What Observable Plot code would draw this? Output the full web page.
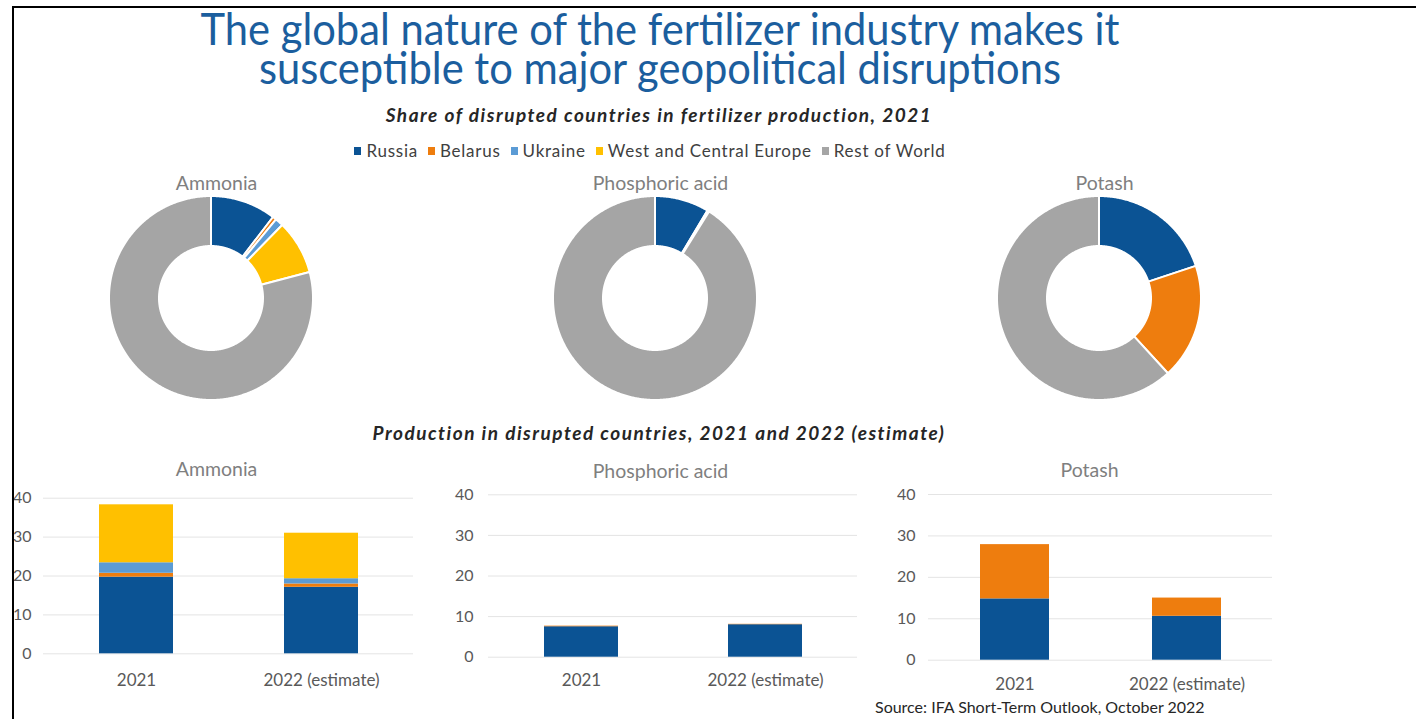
<!DOCTYPE html>
<html><head><meta charset="utf-8">
<script src="https://cdn.jsdelivr.net/npm/d3@7"></script>
<script src="https://cdn.jsdelivr.net/npm/@observablehq/plot@0.6"></script>
<style>
body{margin:0;background:#fff;font-family:Lato,"Open Sans",sans-serif;}
#page{position:relative;width:1416px;height:719px;overflow:hidden;background:#fff;}
.abs{position:absolute;}
#frame{position:absolute;left:12px;top:6px;width:1420px;height:800px;border-left:2px solid #000;border-top:2px solid #000;pointer-events:none;}
.tline{left:0;width:1320px;height:39px;text-align:center;color:#1b5e9e;font-size:44px;line-height:39px;transform:scaleX(0.947);transform-origin:660px 0;white-space:nowrap;}
.sub{left:0;width:1318px;text-align:center;font-size:19px;line-height:19px;letter-spacing:1.5px;font-weight:bold;font-style:italic;color:#262626;white-space:nowrap;}
#legend{left:0;width:1310px;top:134px;display:flex;justify-content:center;}
#source{left:875px;top:699px;font-size:16px;line-height:16px;color:#262626;white-space:nowrap;}
.lg-swatch{margin-right:10px !important;}
.lg-swatch>svg{margin-right:5px !important;}
svg g[aria-label^="x-axis"] text{font-size:17px;}
</style></head>
<body><div id="page">
<div class="abs tline" style="top:9px">The global nature of the fertilizer industry makes it</div>
<div class="abs tline" style="top:48px">susceptible to major geopolitical disruptions</div>
<div id="sub1" class="abs sub" style="top:105px">Share of disrupted countries in fertilizer production, 2021</div>
<div id="legend" class="abs"></div>
<div id="sub2" class="abs sub" style="top:423px">Production in disrupted countries, 2021 and 2022 (estimate)</div>
<div id="source" class="abs">Source: IFA Short-Term Outlook, October 2022</div>
<div id="frame"></div>
</div>
<script>
// ---- data ----
const categories = ["Russia", "Belarus", "Ukraine", "West and Central Europe", "Rest of World"];
const palette = ["#0b5394", "#ee7d0e", "#5b9bd5", "#ffc000", "#a5a5a5"];
const products = ["Ammonia", "Phosphoric acid", "Potash"];
// donut shares (%), 2021
const ammoniaShare = [10.4, 0.6, 1.3, 8.6, 79.1];
const phosphoricShare = [8.6, 0.3, 0, 0, 91.1];
const potashShare = [19.9, 18.3, 0, 0, 61.8];
// bar values (Mt), by year
const years = ["2021", "2022 (estimate)"];
const yTicks = [0, 10, 20, 30, 40];
const ammoniaRussia = [19.7, 17.1];
const ammoniaBelarus = [1.0, 0.85];
const ammoniaUkraine = [2.7, 1.35];
const ammoniaWCE = [14.9, 11.7];
const phosphoricRussia = [7.5, 8.0];
const phosphoricBelarus = [0.15, 0.1];
const potashRussia = [14.8, 10.6];
const potashBelarus = [13.1, 4.4];

const page = document.getElementById("page");
const frame = document.getElementById("frame");
const colorScale = {domain: categories, range: palette};

// legend
const lg = Plot.legend({
  color: {type: "ordinal", ...colorScale},
  swatchWidth: 7, swatchHeight: 8, className: "lg",
  style: {fontSize: "17px", letterSpacing: "0.75px", fontFamily: "Lato, sans-serif", color: "#404040", margin: "0"}
});
document.getElementById("legend").appendChild(lg);

// donuts
const R = 102, r0 = 52;
function donutPoints(shares) {
  const total = d3.sum(shares);
  const pts = [];
  let acc = 0;
  shares.forEach((v, i) => {
    if (!v) return;
    const a0 = acc / total * 2 * Math.PI;
    acc += v;
    const a1 = acc / total * 2 * Math.PI;
    const n = Math.max(2, Math.ceil((a1 - a0) / (Math.PI / 360)));
    for (let j = 0; j <= n; j++) pts.push({cat: categories[i], a: a0 + (a1 - a0) * j / n});
  });
  return pts;
}
const donutShares = [ammoniaShare, phosphoricShare, potashShare];
const donutCx = [211, 655, 1099];
donutShares.forEach((shares, k) => {
  const svg = Plot.plot({
    width: 300, height: 240, margin: 0,
    x: {domain: [-150, 150], range: [0, 300], axis: null},
    y: {domain: [-112, 128], range: [240, 0], axis: null},
    color: colorScale,
    style: {fontFamily: "Lato, sans-serif", background: "transparent", overflow: "visible"},
    marks: [
      Plot.area(donutPoints(shares), {
        x1: d => R * Math.sin(d.a), y1: d => R * Math.cos(d.a),
        x2: d => r0 * Math.sin(d.a), y2: d => r0 * Math.cos(d.a),
        z: "cat", fill: "cat", stroke: "white", strokeWidth: 2, curve: "linear"
      }),
      Plot.text([products[k]], {text: d => d, x: 0, y: 115, dx: 5, fontSize: 19.5, fill: "#7f7f7f"})
    ]
  });
  svg.style.position = "absolute";
  svg.style.left = (donutCx[k] - 150) + "px";
  svg.style.top = "170px";
  page.insertBefore(svg, frame);
});

// bars
function rows(seriesArrays) {
  const out = [];
  years.forEach((y, yi) => seriesArrays.forEach(([name, arr]) => out.push({year: y, series: name, value: arr[yi]})));
  return out;
}
const barData = [
  rows([["Russia", ammoniaRussia], ["Belarus", ammoniaBelarus], ["Ukraine", ammoniaUkraine], ["West and Central Europe", ammoniaWCE]]),
  rows([["Russia", phosphoricRussia], ["Belarus", phosphoricBelarus]]),
  rows([["Russia", potashRussia], ["Belarus", potashBelarus]])
];
const barLayout = [
  {left: 0, width: 420, height: 260, ml: 43, mr: 7, mt: 57.7, mb: 46.7, tp: 12, xp: 20, dy: -36, dx: -12},
  {left: 420, width: 440, height: 265, ml: 68, mr: 3, mt: 54.3, mb: 48.3, tp: 15, xp: 17, dy: -30.5, dx: -12.5},
  {left: 860, width: 420, height: 268, ml: 68, mr: 8, mt: 54, mb: 48.3, tp: 13, xp: 18, dy: -31, dx: -11}
];
barData.forEach((data, k) => {
  const L = barLayout[k];
  const svg = Plot.plot({
    width: L.width, height: L.height,
    marginLeft: L.ml, marginRight: L.mr, marginTop: L.mt, marginBottom: L.mb,
    x: {domain: years, paddingInner: 0.6, paddingOuter: 0.3, tickSize: 0, tickPadding: L.xp, label: null},
    y: {domain: [0, 40], ticks: yTicks, tickSize: 0, tickPadding: L.tp, label: null},
    color: colorScale,
    style: {fontFamily: "Lato, sans-serif", fontSize: "16px", color: "#595959", background: "transparent", overflow: "visible"},
    marks: [
      Plot.ruleY(yTicks, {stroke: "#e4e4e4", strokeWidth: 1}),
      Plot.barY(data, {x: "year", y: "value", fill: "series"}),
      Plot.text([products[k]], {text: d => d, frameAnchor: "top", dy: L.dy, dx: L.dx, fontSize: 19.5, fill: "#7f7f7f"})
    ]
  });
  svg.style.position = "absolute";
  svg.style.left = L.left + "px";
  svg.style.top = "440px";
  page.insertBefore(svg, frame);
});
</script>
</body></html>
